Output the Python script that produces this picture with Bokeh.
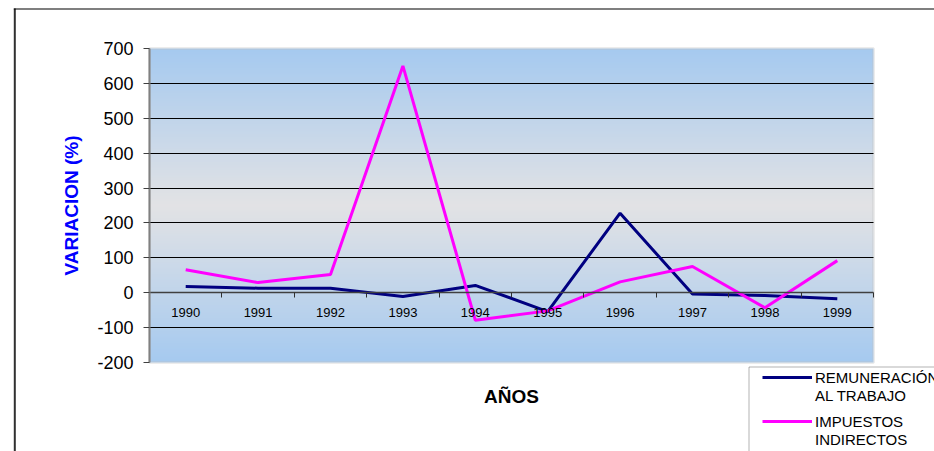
import numpy as np
from bokeh.plotting import figure
from bokeh.models import (Range1d, FixedTicker, LinearAxis, Legend, LegendItem,
                          Label, BoxAnnotation, Grid)
from bokeh.embed import file_html
from bokeh.resources import INLINE

# ---- data ----
years = [1990, 1991, 1992, 1993, 1994, 1995, 1996, 1997, 1998, 1999]
remuneracion = [18, 13, 13, -11, 21, -54, 228, -4, -8, -17]
impuestos = [66, 29, 52, 650, -79, -52, 31, 75, -43, 92]
y_ticks = [-200, -100, 0, 100, 200, 300, 400, 500, 600, 700]
y_tick_labels = ["-200", "-100", "0", "100", "200", "300", "400", "500", "600", "700"]
grid_values = [-100, 100, 200, 300, 400, 500, 600]
series_labels = [["REMUNERACIÓN", "AL TRABAJO"], ["IMPUESTOS", "INDIRECTOS"]]
series_colors = ["#000080", "#FF00FF"]
x_title = "AÑOS"
y_title = "VARIACION (%)"

FONT = "Liberation Sans"
W, H = 934, 451
FL, FR, FT, FB = 149, 873, 48, 362  # plot-area edges in canvas px

x0, x1 = years[0] - 0.5, years[-1] + 0.5
y0, y1 = y_ticks[0], y_ticks[-1]


def xd(px):
    """canvas px -> x data (plot area spans x0..x1)"""
    return x0 + (px - FL) / (FR - FL) * (x1 - x0)


def yd(py):
    """canvas px -> y data (plot area spans y0..y1)"""
    return y1 - (py - FT) / (FB - FT) * (y1 - y0)


p = figure(width=W, height=H, output_backend="svg", toolbar_location=None,
           x_range=Range1d(xd(0), xd(W)), y_range=Range1d(yd(H), yd(0)),
           x_axis_location=None, y_axis_location=None, min_border=0)
p.background_fill_color = "white"
p.border_fill_color = "white"
p.outline_line_color = None
for g in p.grid:
    g.grid_line_color = None

# gradient background of plot area (blue - grey - blue)
n = 300
t = np.abs(np.linspace(-1, 1, n))
top = np.array([166, 202, 240])
mid = np.array([227, 227, 229])
cols = mid[None, :] * (1 - t[:, None]) + top[None, :] * t[:, None]
img = np.zeros((n, 1), dtype=np.uint32)
view = img.view(dtype=np.uint8).reshape((n, 1, 4))
view[:, 0, 0] = cols[:, 0]
view[:, 0, 1] = cols[:, 1]
view[:, 0, 2] = cols[:, 2]
view[:, 0, 3] = 255
p.image_rgba(image=[img], x=x0, y=y0, dw=x1 - x0, dh=y1 - y0, level="image")

# plot-area shadow border
p.add_layout(BoxAnnotation(left=x0, right=x1, bottom=y0, top=y1,
                           fill_color=None, line_color="#C0C0C0",
                           line_width=3, level="underlay"))

# horizontal grid lines
p.add_layout(Grid(dimension=1, ticker=FixedTicker(ticks=grid_values),
                  cross_bounds=(x0, x1), grid_line_color="black",
                  grid_line_width=1))

# y axis pinned at the left edge of the plot area
ya = LinearAxis(fixed_location=x0, bounds=(y0, y1),
                ticker=FixedTicker(ticks=y_ticks),
                major_label_overrides={v: s for v, s in zip(y_ticks, y_tick_labels)},
                axis_line_color="#808080", axis_line_width=2,
                major_tick_out=6, major_tick_in=0,
                major_tick_line_color="#404040", minor_tick_line_color=None,
                major_label_text_font=FONT, major_label_text_font_size="18px",
                major_label_text_color="black", major_label_standoff=10,
                axis_label=y_title, axis_label_text_font=FONT,
                axis_label_text_font_size="19px",
                axis_label_text_font_style="bold",
                axis_label_text_color="#0000FF", axis_label_standoff=12)
p.add_layout(ya, "left")

# x axis at y=0: tick marks between categories, labels at categories
bounds = [y - 0.5 for y in years] + [years[-1] + 0.5]
ax_ticks = LinearAxis(fixed_location=0, bounds=(x0, x1),
                      ticker=FixedTicker(ticks=bounds),
                      major_tick_out=5, major_tick_in=0,
                      major_tick_line_color="#303030",
                      axis_line_color="#404040", axis_line_width=1.5,
                      minor_tick_line_color=None,
                      major_label_text_color=None)
p.add_layout(ax_ticks, "below")
ax_labels = LinearAxis(fixed_location=0, ticker=FixedTicker(ticks=years),
                       major_tick_out=0, major_tick_in=0,
                       major_tick_line_color=None, axis_line_color=None,
                       minor_tick_line_color=None,
                       major_label_text_font=FONT,
                       major_label_text_font_size="13px",
                       major_label_text_color="black",
                       major_label_standoff=15)
p.add_layout(ax_labels, "below")

# x title
p.add_layout(Label(x=(x0 + x1) / 2, y=yd(396), text=x_title,
                   text_align="center", text_baseline="middle",
                   text_font=FONT, text_font_size="19px",
                   text_font_style="bold", text_color="black"))

# outer chart border: left and top edges
p.add_layout(BoxAnnotation(left=xd(13.3), right=xd(15.3), top=yd(8),
                           bottom=yd(H + 5), fill_color="#303030",
                           fill_alpha=1, line_color=None))
p.add_layout(BoxAnnotation(left=xd(13.3), right=xd(W + 5), top=yd(8),
                           bottom=yd(9), fill_color="black",
                           fill_alpha=1, line_color=None))

# series
renderers = []
for vals, col in zip([remuneracion, impuestos], series_colors):
    renderers.append(p.line(years, vals, line_color=col, line_width=3))
# glyph-less renderer for the second line of each legend entry
blank = p.line(x=[], y=[], line_alpha=0)

# legend box
p.add_layout(BoxAnnotation(left=xd(748.5), right=xd(W + 20), top=yd(366.5),
                           bottom=yd(H + 20), fill_color="white",
                           fill_alpha=1, line_color="black", line_width=1))

# one legend block per series (first line carries the glyph)
for (l1, l2), r, vy in zip(series_labels, renderers, [47, 3]):
    leg = Legend(items=[LegendItem(label=l1, renderers=[r]),
                        LegendItem(label=l2, renderers=[blank])],
                 location=(762, vy), padding=0, spacing=0, margin=0,
                 glyph_width=50, glyph_height=18, label_height=18,
                 label_standoff=3,
                 label_text_font=FONT, label_text_font_size="15px",
                 label_text_color="black",
                 border_line_color=None, background_fill_alpha=0)
    p.add_layout(leg, "center")

open("out.html", "w").write(file_html(p, INLINE))
